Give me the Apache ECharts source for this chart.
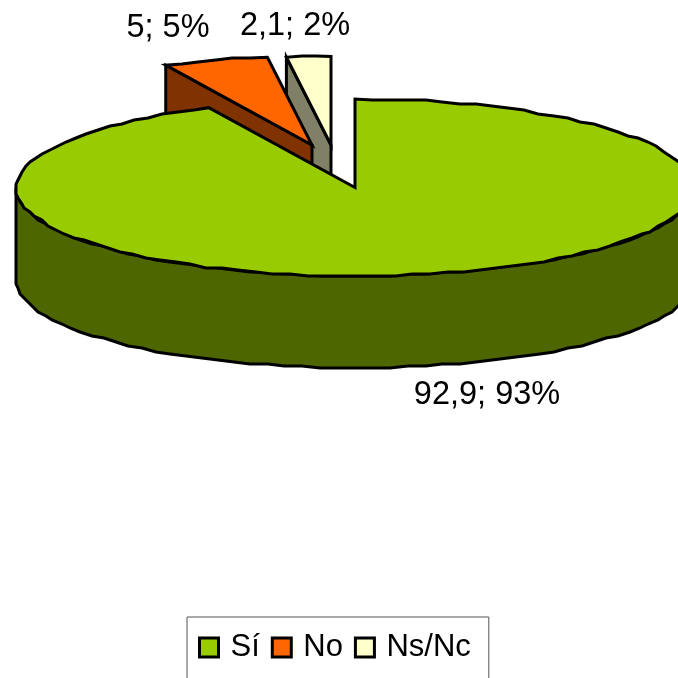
<!DOCTYPE html>
<html>
<head>
<meta charset="utf-8">
<style>
  html, body { margin: 0; padding: 0; background: #fff; overflow: hidden; }
  #my-charts { width: 678px; height: 678px; }
</style>
<script src="https://cdn.jsdelivr.net/npm/echarts@6/dist/echarts.min.js"></script>
</head>
<body>
<div id="my-charts"></div>
<script>
var categories = ['Sí', 'No', 'Ns/Nc']
var values = [92.9, 5, 2.1]
var valueLabels = ['92,9', '5', '2,1']
var percentLabels = ['93%', '5%', '2%']

var topColors = ['#99CC00', '#FF6600', '#FFFFCC']
var wallColors = ['#4D6600', '#803300', '#808066']

// pie geometry
var rx = 339, ry = 88.5, depth = 92
var centers = [[355, 187.5], [312, 145], [331, 145]]
var labelPos = [[487, 395], [168, 28], [295, 26]]
var zOrder = [3, 2, 1]
var grid = 2

var total = values.reduce(function (a, b) { return a + b }, 0)

function snap(v) {
	return Math.round(v / grid) * grid
}

// point on the tilted rim, angle counted clockwise from 12 o'clock
function rim(c, deg) {
	var t = deg * Math.PI / 180
	return [c[0] + rx * Math.sin(t), c[1] - ry * Math.cos(t)]
}

function arc(c, from, to) {
	var pts = []
	var n = Math.max(2, Math.ceil(Math.abs(to - from) / 3))
	for (var i = 0; i <= n; i++) {
		var p = rim(c, from + (to - from) * i / n)
		if (i === 0 || i === n) {
			pts.push(p)
		} else {
			pts.push([snap(p[0]), snap(p[1])])
		}
	}
	return pts
}

function down(pts) {
	return pts.map(function (p) { return [p[0], p[1] + depth] })
}

function poly(points, fill) {
	return {
		type: 'polygon',
		shape: { points: points },
		style: { fill: fill, stroke: '#000', lineWidth: 3, lineJoin: 'miter' }
	}
}

function renderSlice(params, api) {
	var i = params.seriesIndex
	var start = 0
	for (var k = 0; k < i; k++) start += values[k]
	var a0 = start / total * 360
	var a1 = a0 + api.value(0) / total * 360
	var c = centers[i]
	var children = []

	if (i === 0) {
		// only the front of the big slice shows a wall
		var front = arc(c, 90, 270)
		children.push(poly(front.concat(down(front).reverse()), wallColors[i]))
	} else {
		// cut face on the left of the slice
		var p = rim(c, a0)
		var cut = [c, p]
		children.push(poly(cut.concat(down(cut).reverse()), wallColors[i]))
	}
	children.push(poly([c].concat(arc(c, a0, a1)), topColors[i]))
	children.push({
		type: 'text',
		style: {
			text: valueLabels[i] + '; ' + percentLabels[i],
			x: labelPos[i][0],
			y: labelPos[i][1],
			fill: '#000',
			fontSize: 32.5,
			fontFamily: 'Liberation Sans',
			textAlign: 'center',
			textVerticalAlign: 'middle'
		}
	})
	return { type: 'group', children: children }
}

var myChart = echarts.init(document.getElementById('my-charts'), null, { renderer: 'canvas' })

var series = categories.map(function (name, i) {
	return {
		name: name,
		type: 'custom',
		coordinateSystem: 'none',
		z: zOrder[i],
		silent: true,
		animation: false,
		itemStyle: { color: topColors[i] },
		renderItem: renderSlice,
		data: [[values[i]]]
	}
})

var option = {
	animation: false,
	backgroundColor: '#fff',
	legend: {
		data: categories,
		left: 187,
		top: 617,
		padding: [15, 18, 40, 11],
		itemGap: 11,
		itemWidth: 19,
		itemHeight: 19,
		icon: 'rect',
		borderColor: '#555',
		borderWidth: 1,
		selectedMode: false,
		itemStyle: { borderColor: '#000', borderWidth: 3 },
		textStyle: {
			color: '#000',
			fontSize: 31,
			fontFamily: 'Liberation Sans',
			padding: [0, 0, 0, 7]
		}
	},
	series: series
}
myChart.setOption(option)
</script>
</body>
</html>
